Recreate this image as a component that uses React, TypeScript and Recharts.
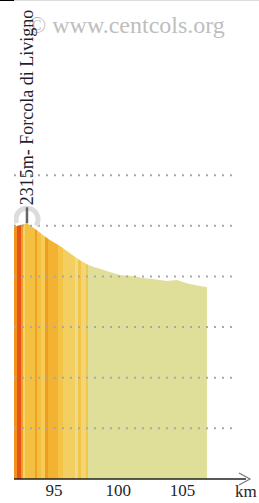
import React from 'react';
import { ComposedChart, Area, XAxis, YAxis, Line, Label } from 'recharts';

// Profile (distance in km, elevation in m)
const kmValues = [91.89, 92.9, 93.52, 94.14, 94.69, 95.47, 96.25, 97.02, 97.57, 98.04, 98.58, 99.36, 100.14, 101.15, 101.93, 102.71, 103.79, 104.57, 105.04, 105.58, 106.36, 106.91];
const elevations = [2308, 2315, 2304, 2292, 2282, 2270, 2256, 2242, 2234, 2229, 2225, 2219, 2213, 2211, 2207, 2205, 2201, 2203, 2199, 2195, 2191, 2189];

// Gradient stripes (start km, colour)
const stripeStartKm = [91.89, 92.09, 92.42, 92.58, 92.72, 93.51, 93.71, 94.02, 94.29, 94.54, 95.32, 95.71, 96.62, 96.87, 97.13, 97.49, 97.65];
const stripeColors = ['#f0921e', '#e65314', '#f29a26', '#f5d468', '#f4c042', '#f2a024', '#f4c042', '#f5cc55', '#f29c22', '#f4b232', '#f4c446', '#f3cf62', '#e9dd8c', '#f4c446', '#f1d577', '#f3c64c', '#e0df9a'];

const xTicks = [95, 100, 105];
const xDomain = [91.89, 109.95];
const yDomain = [1810, 2750];
const gridValues = [1910, 2010, 2110, 2210, 2310, 2410];
const gridSpanKm = [91.89, 108.93];

const peakKm = 92.9;
const peakElev = 2315;
const peakName = 'Forcola di Livigno';
const watermark = '© www.centcols.org';
const axisUnit = 'km';

const FONT = "'Liberation Serif', 'Times New Roman', Times, serif";

const profile = kmValues.map((km, i) => ({ km, elev: elevations[i] }));
const peakData = [{ km: peakKm, elev: peakElev }];

const firstKm = kmValues[0];
const lastKm = kmValues[kmValues.length - 1];
const frac = (k: number) => Math.max(0, Math.min(1, (k - firstKm) / (lastKm - firstKm)));

const stops: { off: number; color: string }[] = [];
stripeStartKm.forEach((s, i) => {
  const e = i + 1 < stripeStartKm.length ? stripeStartKm[i + 1] : lastKm;
  stops.push({ off: frac(s), color: stripeColors[i] });
  stops.push({ off: frac(e), color: stripeColors[i] });
});

const KmTick = (props: any) => {
  const { x, y, payload } = props;
  return (
    <text x={x} y={y + 17} textAnchor="middle" fontSize={17} fill="#1e1e2e" style={{ fontFamily: FONT }}>
      {payload.value}
    </text>
  );
};

const AxisEnd = (props: any) => {
  const { viewBox } = props;
  const x = viewBox.x + viewBox.width;
  const y = viewBox.y;
  return (
    <g>
      <polyline points={`${x - 7},${y - 6} ${x + 4},${y} ${x - 7},${y + 6}`} fill="none" stroke="#777" strokeWidth={1.2} />
      <text x={x - 11} y={y + 18} fontSize={17} fill="#1e1e2e" style={{ fontFamily: FONT }}>
        {axisUnit}
      </text>
    </g>
  );
};

const PeakLabel = (props: any) => {
  const { cx, cy } = props;
  if (cx == null || cy == null) return null;
  const r = 11;
  const oy = cy - 4;
  const pt = (deg: number) => {
    const a = (deg * Math.PI) / 180;
    return [cx + r * Math.cos(a), oy - r * Math.sin(a)];
  };
  const [x1, y1] = pt(200);
  const [x2, y2] = pt(-35);
  return (
    <g key="peak">
      <path d={`M${x1},${y1} A${r},${r} 0 1 1 ${x2},${y2}`} fill="none" stroke="#dcdcdc" strokeWidth={5} />
      <line x1={cx} y1={cy} x2={cx} y2={cy - 16} stroke="#666" strokeWidth={2.5} />
      <text transform={`translate(${cx + 6},${cy - 18}) rotate(-90)`} fontSize={18} fill="#1e1e2e" style={{ fontFamily: FONT }}>
        {`${peakElev}m- ${peakName}`}
      </text>
    </g>
  );
};

export default function App() {
  return (
    <div style={{ position: 'absolute', left: 0, top: 0, width: 259, height: 503, background: '#fff', overflow: 'hidden' }}>
      <div style={{ position: 'absolute', left: 0, top: 0, width: 14, height: 1, background: '#000' }} />
      <div style={{ position: 'absolute', left: 14, top: 0, width: 245, height: 1, background: '#ddd' }} />
      <svg width={259} height={503} style={{ position: 'absolute', left: 0, top: 0 }}>
        <text x={28} y={33} fontSize={24} fill="#bebebe" style={{ fontFamily: FONT }}>
          {watermark}
        </text>
      </svg>
      <div style={{ position: 'absolute', left: 0, top: 0 }}>
        <ComposedChart width={259} height={503} margin={{ top: 3, right: 13, bottom: 0, left: 14 }} data={profile}>
          <defs>
            <linearGradient id="stripes" x1="0" y1="0" x2="1" y2="0">
              {stops.map((s, i) => (
                <stop key={i} offset={s.off} stopColor={s.color} />
              ))}
            </linearGradient>
          </defs>
          <XAxis
            dataKey="km"
            type="number"
            domain={xDomain}
            allowDataOverflow
            ticks={xTicks}
            tick={<KmTick />}
            tickLine={false}
            tickSize={0}
            tickMargin={0}
            height={24}
            axisLine={{ stroke: '#222', strokeWidth: 1.6 }}
          >
            <Label content={<AxisEnd />} />
          </XAxis>
          <YAxis hide type="number" domain={yDomain} allowDataOverflow />
          {gridValues.map((v) => (
            <Line
              key={v}
              data={gridSpanKm.map((k) => ({ km: k, g: v }))}
              dataKey="g"
              stroke="#a8a8a8"
              strokeWidth={2}
              strokeDasharray="2 6"
              dot={false}
              activeDot={false}
              isAnimationActive={false}
            />
          ))}
          <Area
            dataKey="elev"
            type="linear"
            stroke="none"
            fill="url(#stripes)"
            fillOpacity={1}
            isAnimationActive={false}
            dot={false}
            activeDot={false}
          />
          <Line
            data={peakData}
            dataKey="elev"
            stroke="none"
            dot={<PeakLabel />}
            activeDot={false}
            isAnimationActive={false}
          />
        </ComposedChart>
      </div>
    </div>
  );
}
